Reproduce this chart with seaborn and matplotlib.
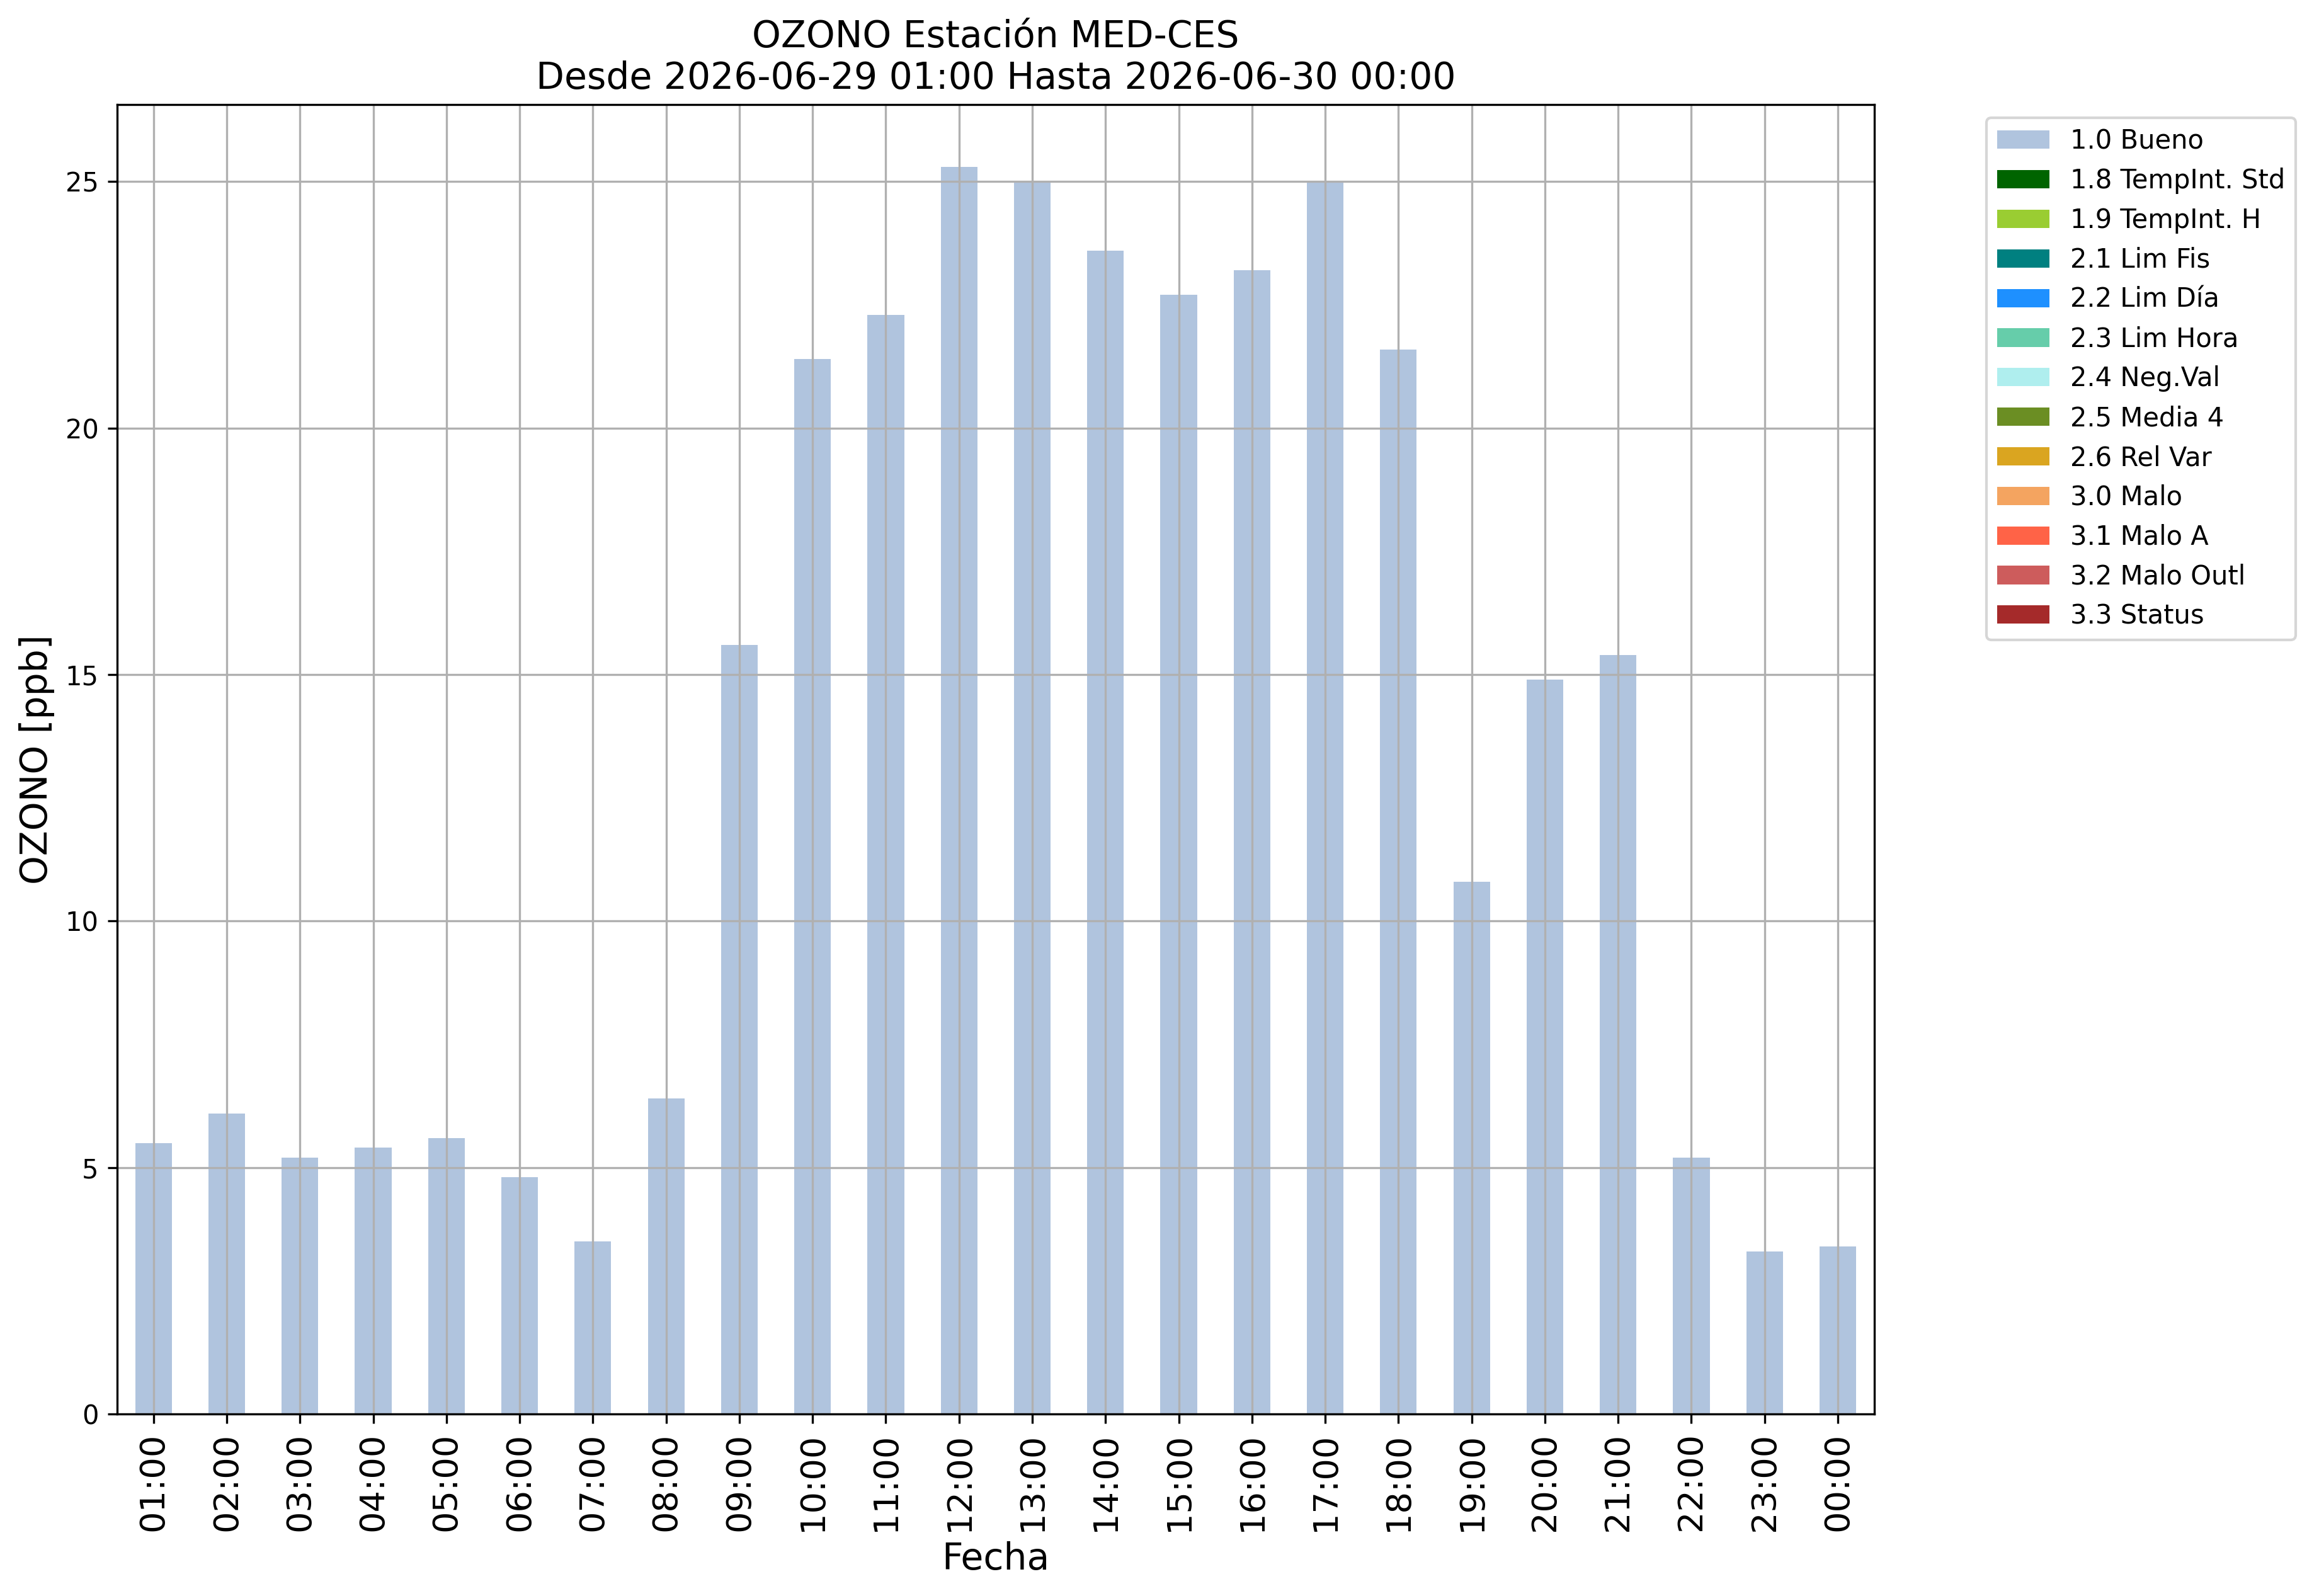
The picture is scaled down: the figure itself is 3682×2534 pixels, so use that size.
import matplotlib
matplotlib.use('Agg')
import matplotlib.pyplot as plt
from matplotlib.patches import Patch
import seaborn as sns

# hourly ozone, 2026-06-29 01:00 .. 2026-06-30 00:00
horas = ['01:00', '02:00', '03:00', '04:00', '05:00', '06:00', '07:00', '08:00',
         '09:00', '10:00', '11:00', '12:00', '13:00', '14:00', '15:00', '16:00',
         '17:00', '18:00', '19:00', '20:00', '21:00', '22:00', '23:00', '00:00']
ozono = [5.5, 6.1, 5.2, 5.4, 5.6, 4.8, 3.5, 6.4,
         15.6, 21.4, 22.3, 25.3, 25.0, 23.6, 22.7, 23.2,
         25.0, 21.6, 10.8, 14.9, 15.4, 5.2, 3.3, 3.4]

# quality flags shown in the legend
flags = ['1.0 Bueno', '1.8 TempInt. Std', '1.9 TempInt. H', '2.1 Lim Fis', '2.2 Lim Día',
         '2.3 Lim Hora', '2.4 Neg.Val', '2.5 Media 4', '2.6 Rel Var', '3.0 Malo',
         '3.1 Malo A', '3.2 Malo Outl', '3.3 Status']
flag_colors = ['lightsteelblue', 'darkgreen', 'yellowgreen', 'teal', 'dodgerblue',
               'mediumaquamarine', 'paleturquoise', 'olivedrab', 'goldenrod', 'sandybrown',
               'tomato', 'indianred', 'brown']

DPI = 300
fig = plt.figure(figsize=(3682 / DPI, 2534 / DPI), dpi=DPI)
ax = fig.add_axes([0.0504, 0.1140, 0.8083 - 0.0504, 0.9345 - 0.1140])

sns.barplot(x=horas, y=ozono, color=flag_colors[0], saturation=1, width=0.5,
            linewidth=0, ax=ax)

# grid drawn over the bars, like the original
ax.grid(True, color='#b0b0b0', linewidth=0.8)

ax.set_title('OZONO Estación MED-CES\nDesde 2026-06-29 01:00 Hasta 2026-06-30 00:00', fontsize=14)
ax.set_xlabel('Fecha', fontsize=14)
ax.set_ylabel('OZONO [ppb]', fontsize=14)
ax.tick_params(axis='x', labelrotation=90, labelsize=13)
ax.tick_params(axis='y', labelsize=10)

handles = [Patch(facecolor=c, label=l) for l, c in zip(flags, flag_colors)]
ax.legend(handles=handles, loc='upper left', bbox_to_anchor=(1.0563, 1), fontsize=10)

fig.savefig('out.png', dpi=DPI)
